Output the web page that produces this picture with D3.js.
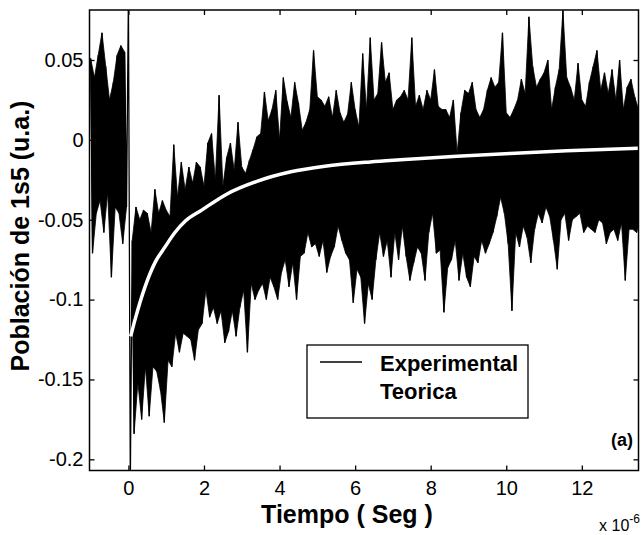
<!DOCTYPE html>
<html>
<head>
<meta charset="utf-8">
<script src="https://cdn.jsdelivr.net/npm/d3@7"></script>
<style>
body { margin: 0; background: #fff; }
svg { display: block; font-family: "Liberation Sans", Arial, sans-serif; }
.tick text { font-size: 20px; fill: #000; font-family: "Liberation Sans", Arial, sans-serif; }
.tick line { stroke: #000; stroke-width: 1.3; }
.label { font-weight: bold; fill: #000; }
</style>
</head>
<body>
<svg width="641" height="535"></svg>
<script>
// **** Data ****

// experimental trace: one peak and one trough per 0.1 us bin, from t = -1.0 us
// (the bin at t = 0 is the trigger glitch that runs over the whole axis)
const expStart = -1.0;
const expStep = 0.1;
const glitchIndex = 10;

const expHigh = [
  0.051, 0.039, 0.053, 0.067, 0.046, 0.025, 0.036, 0.053, 0.059, 0.055,
  0.090,
  -0.063, -0.042, -0.050, -0.044, -0.046, -0.058, -0.031, -0.046, -0.038, -0.044,
  -0.048, -0.003, -0.036, -0.014, -0.031, -0.017, -0.027, -0.014, -0.017, -0.029,
  -0.002, 0.004, -0.025, 0.028, -0.029, -0.011, -0.002, -0.019, 0.011, -0.017,
  -0.021, -0.013, -0.006, 0.002, 0.004, 0.030, 0.012, 0.019, 0.031, 0.000,
  0.039, 0.024, 0.014, 0.036, 0.023, 0.006, 0.011, 0.019, 0.056, 0.027,
  0.025, 0.021, 0.027, 0.014, 0.031, 0.017, 0.011, 0.016, 0.036, 0.019,
  0.008, 0.054, 0.019, 0.064, 0.025, 0.029, 0.061, 0.036, 0.042, 0.019,
  0.025, 0.027, 0.031, 0.025, 0.064, 0.021, 0.028, 0.019, 0.031, 0.025,
  0.044, 0.021, 0.019, 0.019, 0.014, 0.025, -0.008, 0.017, 0.031, 0.029,
  0.036, 0.019, 0.014, 0.019, 0.031, 0.039, 0.033, 0.036, 0.067, 0.017,
  0.014, 0.019, 0.025, 0.038, 0.029, 0.077, 0.046, 0.033, 0.038, 0.042,
  0.050, 0.019, 0.033, 0.044, 0.081, 0.039, 0.033, 0.025, 0.048, 0.025,
  0.021, 0.036, 0.046, 0.056, 0.031, 0.042, 0.029, 0.044, 0.025, 0.050,
  0.019, 0.033, 0.038, 0.027, 0.019
];

const expLow = [
  -0.071, -0.046, -0.038, -0.058, -0.033, -0.086, -0.042, -0.046, -0.065, -0.042,
  -0.215,
  -0.184, -0.152, -0.175, -0.142, -0.173, -0.142, -0.145, -0.157, -0.177, -0.138,
  -0.142, -0.121, -0.133, -0.121, -0.123, -0.125, -0.138, -0.119, -0.115, -0.094,
  -0.111, -0.105, -0.115, -0.107, -0.127, -0.120, -0.107, -0.123, -0.105, -0.094,
  -0.133, -0.090, -0.100, -0.094, -0.090, -0.100, -0.086, -0.092, -0.100, -0.083,
  -0.075, -0.092, -0.077, -0.100, -0.073, -0.071, -0.058, -0.067, -0.065, -0.073,
  -0.063, -0.083, -0.073, -0.067, -0.054, -0.063, -0.071, -0.075, -0.102, -0.081,
  -0.086, -0.115, -0.090, -0.100, -0.075, -0.058, -0.073, -0.063, -0.086, -0.058,
  -0.075, -0.054, -0.073, -0.088, -0.077, -0.067, -0.071, -0.088, -0.058, -0.046,
  -0.071, -0.069, -0.108, -0.080, -0.075, -0.063, -0.088, -0.071, -0.086, -0.092,
  -0.073, -0.077, -0.063, -0.071, -0.065, -0.058, -0.048, -0.036, -0.046, -0.065,
  -0.107, -0.058, -0.067, -0.054, -0.061, -0.077, -0.056, -0.046, -0.052, -0.042,
  -0.048, -0.063, -0.081, -0.050, -0.046, -0.063, -0.050, -0.048, -0.046, -0.058,
  -0.054, -0.056, -0.058, -0.050, -0.052, -0.065, -0.058, -0.056, -0.063, -0.052,
  -0.088, -0.056, -0.056, -0.058, -0.048
];

// theoretical curve
const theoryTime = [0.06, 0.17, 0.44, 0.7, 0.97, 1.23, 1.5, 1.94, 2.6, 3.4, 4.3, 5.2, 6.4, 7.2, 8.7, 10.1, 11.6, 13.5];
const theoryValue = [-0.123, -0.113, -0.092, -0.077, -0.067, -0.058, -0.051, -0.044, -0.034, -0.026, -0.020, -0.0165, -0.0138, -0.0125, -0.0103, -0.0085, -0.0068, -0.0052];

const xTicks = [0, 2, 4, 6, 8, 10, 12];
const yTicks = [-0.2, -0.15, -0.1, -0.05, 0, 0.05];

// **** Scales ****

var svg = d3.select('svg');

var timeScale = d3.scaleLinear()
    .domain([-1.03, 13.5]).range([89.5, 638.5]);

var popScale = d3.scaleLinear()
    .domain([-0.207, 0.0813]).range([470.5, 10]);

svg.append('clipPath').attr('id', 'plotArea')
    .append('rect')
    .attr('x', timeScale.range()[0])
    .attr('y', popScale.range()[1])
    .attr('width', timeScale.range()[1] - timeScale.range()[0])
    .attr('height', popScale.range()[0] - popScale.range()[1]);

// **** Experimental trace ****

var binTime = i => expStart + i * expStep;

// dense body of the noise: filled between troughs and peaks
var body = d3.area()
    .defined((d, i) => i !== glitchIndex)
    .x1((d, i) => timeScale(binTime(i)))
    .y1(d => popScale(d))
    .x0((d, i) => timeScale(binTime(i) + expStep / 2))
    .y0((d, i) => popScale(expLow[i]));

svg.append('path')
    .attr('clip-path', 'url(#plotArea)')
    .attr('d', body(expHigh))
    .style('fill', '#000')
    .style('stroke', '#000')
    .style('stroke-width', 0.8);

// the trace itself, peak then trough in each bin
var expPoints = [];
expHigh.forEach((h, i) => {
    expPoints.push([binTime(i), h]);
    expPoints.push([binTime(i) + expStep / 2, expLow[i]]);
});

var line = d3.line()
    .x(d => timeScale(d[0]))
    .y(d => popScale(d[1]));

svg.append('path')
    .attr('clip-path', 'url(#plotArea)')
    .attr('d', line(expPoints))
    .style('fill', 'none')
    .style('stroke', '#000')
    .style('stroke-width', 1.3);

// **** Theoretical curve ****

svg.append('path')
    .attr('clip-path', 'url(#plotArea)')
    .attr('d', d3.line()
        .x((d, i) => timeScale(theoryTime[i]))
        .y(d => popScale(d))
        .curve(d3.curveMonotoneX)(theoryValue))
    .style('fill', 'none')
    .style('stroke', '#fff')
    .style('stroke-width', 3.5);

// **** Axes (ticks pointing inward, box around) ****

svg.append('g').attr('class', 'x axis')
    .attr('transform', 'translate(0,470.5)')
    .call(d3.axisBottom(timeScale).tickValues(xTicks)
        .tickSizeInner(-5).tickSizeOuter(0).tickPadding(10)
        .tickFormat(d3.format('d')));

svg.append('g').attr('class', 'x axis top')
    .attr('transform', 'translate(0,10)')
    .call(d3.axisTop(timeScale).tickValues(xTicks)
        .tickSizeInner(-5).tickSizeOuter(0).tickFormat(''));

svg.append('g').attr('class', 'y axis')
    .attr('transform', 'translate(89.5,0)')
    .call(d3.axisLeft(popScale).tickValues(yTicks)
        .tickSizeInner(-5).tickSizeOuter(0).tickPadding(6)
        .tickFormat(d => String(+d.toFixed(2))));

svg.append('g').attr('class', 'y axis right')
    .attr('transform', 'translate(638.5,0)')
    .call(d3.axisRight(popScale).tickValues(yTicks)
        .tickSizeInner(-5).tickSizeOuter(0).tickFormat(''));

svg.selectAll('.domain').remove();

svg.append('rect')
    .attr('x', 89.5).attr('y', 10)
    .attr('width', 549).attr('height', 460.5)
    .style('fill', 'none')
    .style('stroke', '#000')
    .style('stroke-width', 1.5);

// **** Labels ****

svg.append('text')
    .attr('class', 'label')
    .attr('transform', 'translate(29,236) rotate(-90)')
    .attr('text-anchor', 'middle')
    .style('font-size', '25px')
    .text('Población de 1s5 (u.a.)');

svg.append('text')
    .attr('class', 'label')
    .attr('x', 347).attr('y', 523)
    .attr('text-anchor', 'middle')
    .style('font-size', '25px')
    .text('Tiempo ( Seg )');

var expo = svg.append('text')
    .attr('x', 640).attr('y', 531)
    .attr('text-anchor', 'end')
    .style('font-size', '16px');
expo.append('tspan').text('x 10');
expo.append('tspan').attr('dy', -8).style('font-size', '12px').text('-6');

svg.append('text')
    .attr('class', 'label')
    .attr('x', 633).attr('y', 446)
    .attr('text-anchor', 'end')
    .style('font-size', '18px')
    .text('(a)');

// **** Legend ****

var legend = svg.append('g');

legend.append('rect')
    .attr('x', 307).attr('y', 345)
    .attr('width', 221).attr('height', 73)
    .style('fill', '#fff')
    .style('stroke', '#000')
    .style('stroke-width', 1.3);

legend.append('line')
    .attr('x1', 320).attr('x2', 362)
    .attr('y1', 362).attr('y2', 362)
    .style('stroke', '#000').style('stroke-width', 1.5);

legend.append('line')
    .attr('x1', 320).attr('x2', 362)
    .attr('y1', 391).attr('y2', 391)
    .style('stroke', '#fff').style('stroke-width', 3.5);

legend.append('text')
    .attr('class', 'label')
    .attr('x', 380).attr('y', 371)
    .style('font-size', '22px')
    .text('Experimental');

legend.append('text')
    .attr('class', 'label')
    .attr('x', 380).attr('y', 399)
    .style('font-size', '22px')
    .text('Teorica');
</script>
</body>
</html>
